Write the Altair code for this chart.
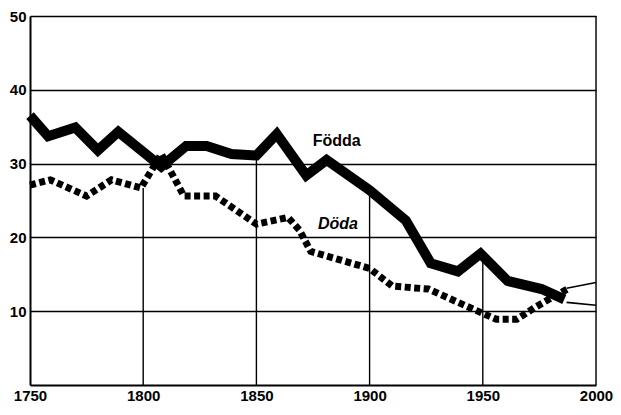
import altair as alt
import pandas as pd

# Födda (births per 1000)
fodda_years = [1750, 1758, 1770, 1780, 1789, 1808, 1819, 1828, 1839, 1850, 1859,
               1872, 1881, 1900, 1916, 1927, 1939, 1949, 1961, 1976, 1986]
fodda_vals = [36.5, 33.7, 34.9, 31.8, 34.3, 29.6, 32.4, 32.4, 31.3, 31.1, 34.0,
              28.4, 30.5, 26.4, 22.3, 16.5, 15.4, 17.8, 14.1, 13.0, 11.6]

# Döda (deaths per 1000)
doda_years = [1750, 1759, 1775, 1786, 1799, 1808, 1818, 1832, 1850, 1864, 1869,
              1874, 1900, 1910, 1926, 1950, 1956, 1965, 1973, 1982, 1988]
doda_vals = [27.1, 27.8, 25.6, 27.8, 26.7, 31.3, 25.6, 25.6, 21.8, 22.7, 21.0,
             18.1, 15.8, 13.4, 13.0, 9.7, 8.9, 8.9, 10.5, 12.1, 13.1]

# thin continuations to 2000
thin_id = ["a", "a", "b", "b"]
thin_years = [1987, 2000, 1987, 2000]
thin_vals = [13.1, 13.9, 11.2, 10.8]

# partial vertical rules (year, top value)
rule_years = [1800, 1850, 1900, 1950, 2000]
rule_tops = [26.7, 31.1, 26.4, 17.8, 50]

x_ticks = [1750, 1800, 1850, 1900, 1950, 2000]
y_ticks = [10, 20, 30, 40, 50]

label_text = ["Födda", "Döda"]
label_x = [1885.5, 1886]
label_y = [33.0, 21.8]

FONT = "Liberation Sans"

fodda = pd.DataFrame({"year": fodda_years, "val": fodda_vals})
doda = pd.DataFrame({"year": doda_years, "val": doda_vals})
thin = pd.DataFrame({"id": thin_id, "year": thin_years, "val": thin_vals})
rules = pd.DataFrame({"year": rule_years, "top": rule_tops, "bottom": [0] * len(rule_years)})
labels = pd.DataFrame({"text": label_text, "year": label_x, "val": label_y})

xscale = alt.Scale(domain=[1750, 2000], nice=False, zero=False)
yscale = alt.Scale(domain=[0, 50], nice=False)

xaxis = alt.Axis(values=x_ticks, format="d", grid=False, ticks=False,
                 domainColor="black", domainWidth=2, labelFont=FONT,
                 labelFontSize=15, labelFontWeight="bold", labelColor="black",
                 labelPadding=3, title=None, labelFlush=False)
yaxis = alt.Axis(values=y_ticks, grid=True, gridColor="black", gridWidth=1.4,
                 gridOpacity=1, ticks=False, domainColor="black", domainWidth=2,
                 labelFont=FONT, labelFontSize=15, labelFontWeight="bold",
                 labelColor="black", labelPadding=4, title=None)

base_rules = alt.Chart(rules).mark_rule(color="black", strokeWidth=1.4).encode(
    x=alt.X("year:Q", scale=xscale, axis=xaxis),
    y=alt.Y("bottom:Q", scale=yscale, axis=yaxis),
    y2="top:Q",
)

fodda_line = alt.Chart(fodda).mark_line(
    color="black", strokeWidth=10, strokeJoin="miter", strokeCap="butt"
).encode(x=alt.X("year:Q", scale=xscale), y=alt.Y("val:Q", scale=yscale))

doda_line = alt.Chart(doda).mark_line(
    color="black", strokeWidth=7, strokeDash=[6, 3.5], strokeJoin="miter", strokeCap="butt"
).encode(x=alt.X("year:Q", scale=xscale), y=alt.Y("val:Q", scale=yscale))

thin_lines = alt.Chart(thin).mark_line(color="black", strokeWidth=1.6).encode(
    x=alt.X("year:Q", scale=xscale), y=alt.Y("val:Q", scale=yscale), detail="id:N"
)

fodda_lab = alt.Chart(labels[labels.text == "Födda"]).mark_text(
    font=FONT, fontSize=16, fontWeight="bold", color="black"
).encode(x=alt.X("year:Q", scale=xscale), y=alt.Y("val:Q", scale=yscale), text="text:N")

doda_lab = alt.Chart(labels[labels.text == "Döda"]).mark_text(
    font=FONT, fontSize=16, fontWeight="bold", fontStyle="italic", color="black"
).encode(x=alt.X("year:Q", scale=xscale), y=alt.Y("val:Q", scale=yscale), text="text:N")

chart = alt.layer(base_rules, thin_lines, doda_line, fodda_line, fodda_lab, doda_lab).properties(
    width=566, height=369,
    autosize=alt.AutoSizeParams(type="none"),
    padding={"left": 22, "top": 8, "right": 17, "bottom": 18},
).configure_view(stroke=None).configure(background="white")

chart.save("out.html", embed_options={"renderer": "svg", "actions": False})
